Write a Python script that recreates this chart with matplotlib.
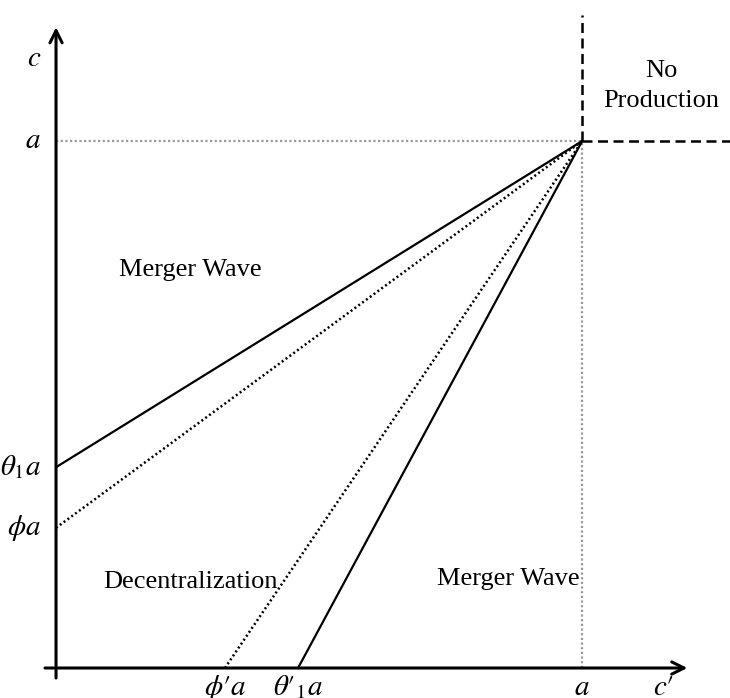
#!/usr/bin/env python3
"""Regions of the (c', c) cost plane: merger waves, decentralization, no production."""

import matplotlib

matplotlib.use("Agg")
import matplotlib.pyplot as plt

plt.rcParams["font.family"] = ["Liberation Serif", "DejaVu Serif"]
plt.rcParams["mathtext.fontset"] = "stix"

# Thresholds as fractions of a (a = 1)
a = 1.0
theta1 = 0.381
phi = 0.266
phi_prime = 0.321
theta1_prime = 0.46

# Data window
x_lim = (-0.1065, 1.281)
y_lim = (-0.0569, 1.2676)

region_labels = ["Merger Wave", "Decentralization", "Merger Wave"]
region_pos = [(0.255, 0.755), (0.255, 0.164), (0.86, 0.168)]

fig = plt.figure(figsize=(7.3, 6.98), dpi=100)
ax = fig.add_axes([0, 0, 1, 1])
ax.set_xlim(*x_lim)
ax.set_ylim(*y_lim)
ax.axis("off")

# Axes with arrow heads
ax.annotate("", xy=(0, 1.216), xytext=(0, -0.019),
            arrowprops=dict(arrowstyle="->", lw=2.2, color="black",
                            mutation_scale=22, shrinkA=0, shrinkB=0))
ax.annotate("", xy=(1.2, 0), xytext=(-0.021, 0),
            arrowprops=dict(arrowstyle="->", lw=2.2, color="black",
                            mutation_scale=22, shrinkA=0, shrinkB=0))

# Grey guides at c = a and c' = a
ax.plot([0, a], [a, a], color="#999999", lw=1.6, linestyle=(0, (1, 1.1)))
ax.plot([a, a], [0, a], color="#999999", lw=1.6, linestyle=(0, (1, 1.1)))

# No-production boundary
ax.plot([a, a], [a, 1.24], color="black", lw=1.8, linestyle=(0, (4, 2.2)))
ax.plot([a, 1.281], [a, a], color="black", lw=1.8, linestyle=(0, (4, 2.2)))

# Solid thresholds
ax.plot([0, a], [theta1 * a, a], color="black", lw=1.6)
ax.plot([theta1_prime * a, a], [0, a], color="black", lw=1.6)

# Dotted thresholds
ax.plot([0, a], [phi * a, a], color="black", lw=1.8, linestyle=(0, (0.8, 1.1)))
ax.plot([phi_prime * a, a], [0, a], color="black", lw=1.8, linestyle=(0, (0.8, 1.1)))

fs = 19
for text, (x, y) in zip(region_labels, region_pos):
    ax.text(x, y, text, fontsize=fs, ha="center", va="center")
ax.text(1.15, 1.104, "No\nProduction", fontsize=fs, ha="center", va="center",
        linespacing=1.5)

# Axis and tick labels
ms = 21
ax.text(-0.028, 1.155, r"$c$", fontsize=ms, ha="right", va="center")
ax.text(-0.028, a, r"$a$", fontsize=ms, ha="right", va="center")
ax.text(-0.028, theta1 * a, r"$\theta_1 a$", fontsize=ms, ha="right", va="center")
ax.text(-0.028, phi * a, r"$\phi a$", fontsize=ms, ha="right", va="center")
base_y = -0.052
ax.text(phi_prime * a, base_y, "$\\phi\u2032 a$", fontsize=ms, ha="center", va="baseline")
ax.text(theta1_prime * a, base_y, "$\\theta\u2032_1 a$", fontsize=ms, ha="center", va="baseline")
ax.text(a, base_y, r"$a$", fontsize=ms, ha="center", va="baseline")
ax.text(1.155, base_y, "$c\u2032$", fontsize=ms, ha="center", va="baseline")

fig.savefig("out.png", dpi=100)
